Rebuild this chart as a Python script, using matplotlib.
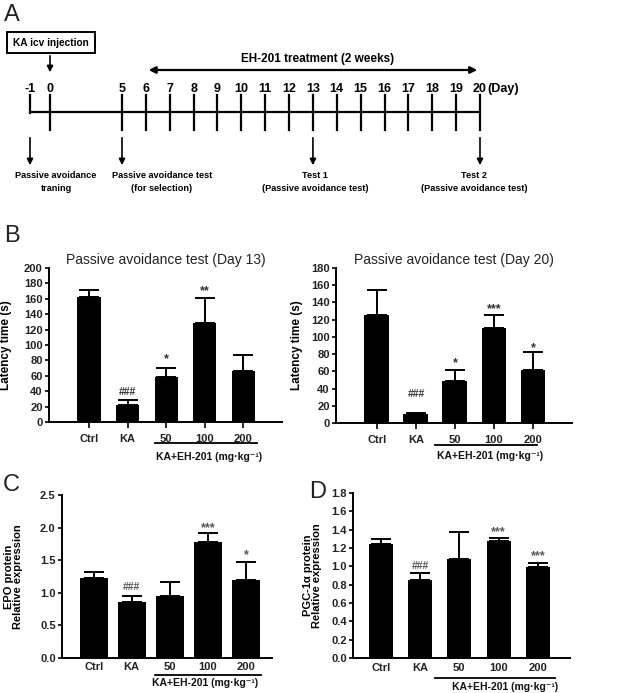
import matplotlib
matplotlib.use('Agg')
import matplotlib.pyplot as plt
import numpy as np
from matplotlib.patches import Rectangle
from matplotlib.transforms import blended_transform_factory

plt.rcParams['font.family'] = ['Liberation Sans', 'DejaVu Sans']

# ---------------- data ----------------
groups = ['Ctrl', 'KA', '50', '100', '200']
group_label = 'KA+EH-201 (mg·kg⁻¹)'

day13_mean = [162, 22, 59, 128, 66]
day13_err = [10, 7, 11, 33, 21]
day13_sig = ['', '###', '*', '**', '']

day20_mean = [126, 10, 49, 110, 62]
day20_err = [28, 2, 13, 16, 20]
day20_sig = ['', '###', '*', '***', '*']

epo_mean = [1.23, 0.86, 0.95, 1.78, 1.20]
epo_err = [0.09, 0.09, 0.22, 0.14, 0.28]
epo_sig = ['', '###', '', '***', '*']

pgc_mean = [1.24, 0.85, 1.08, 1.28, 0.99]
pgc_err = [0.06, 0.08, 0.29, 0.03, 0.05]
pgc_sig = ['', '###', '', '***', '***']

timeline_days = [-1, 0, 5, 6, 7, 8, 9, 10, 11, 12, 13, 14, 15, 16, 17, 18, 19, 20]
event_days = [-1, 5, 13, 20]
event_labels = ['Passive avoidance\ntraning', 'Passive avoidance test\n(for selection)',
                'Test 1\n(Passive avoidance test)', 'Test 2\n(Passive avoidance test)']
injection_day = 0
treatment_days = (6, 20)
treatment_label = 'EH-201 treatment (2 weeks)'
injection_label = 'KA icv injection'

# ---------------- figure ----------------
W, H = 630, 693
fig = plt.figure(figsize=(W / 100, H / 100), dpi=100)

def add_ax(l, r, t, b):
    return fig.add_axes([l / W, 1 - b / H, (r - l) / W, (b - t) / H])

# overlay axes in pixel coords
ov = fig.add_axes([0, 0, 1, 1])
ov.set_xlim(0, W)
ov.set_ylim(H, 0)
ov.axis('off')

NARROW = ['Liberation Sans Narrow', 'Liberation Sans', 'DejaVu Sans']

# ---- panel A: timeline ----
def dx(d):
    return np.interp(d, [-1, 0, 5, 20], [30, 50, 122, 480])

line_y = 112
ov.plot([dx(-1), dx(20)], [line_y, line_y], color='black', lw=1.6, solid_capstyle='butt')
for d in timeline_days:
    x = dx(d)
    if d == -1:
        ov.plot([x, x], [95, line_y + 1], color='black', lw=1.6)
    else:
        ov.plot([x, x], [95, 130], color='black', lw=1.6)
    ov.text(x, 89, str(d), ha='center', va='center', fontsize=9, fontweight='bold', family=NARROW)
ov.text(dx(20) + 7, 89, '(Day)', ha='left', va='center', fontsize=9, fontweight='bold', family=NARROW)

# injection box
ov.add_patch(Rectangle((7, 32), 88, 21, fill=False, edgecolor='black', lw=1.4))
ov.text(51, 43, injection_label, ha='center', va='center', fontsize=7.3, fontweight='bold', family=NARROW)
ov.annotate('', xy=(dx(injection_day), 75), xytext=(dx(injection_day), 53),
            arrowprops=dict(arrowstyle='-|>', color='black', lw=1.2, mutation_scale=9))

# treatment double arrow
ov.annotate('', xy=(dx(treatment_days[1]), 70), xytext=(dx(treatment_days[0]), 70),
            arrowprops=dict(arrowstyle='<|-|>', color='black', lw=1.6, mutation_scale=10))
ov.text(318, 59, treatment_label, ha='center', va='center', fontsize=8.5, fontweight='bold', family=NARROW)

# event arrows and labels
label_x = [56, 162, 315, 474]
for d, lab, lx in zip(event_days, event_labels, label_x):
    x = dx(d)
    ov.annotate('', xy=(x, 168), xytext=(x, 135),
                arrowprops=dict(arrowstyle='-|>', color='black', lw=1.2, mutation_scale=9))
    ov.text(lx, 171, lab, ha='center', va='top', fontsize=6.6, fontweight='bold',
            family=NARROW, linespacing=1.55)

# panel letters
for letter, x, y in [('A', 4, 15), ('B', 4, 236), ('C', 3, 485), ('D', 309, 492)]:
    ov.text(x, y, letter, ha='left', va='center', fontsize=17, fontweight='light', color='#222')

# ---- bar panels ----
def bar_panel(ax, means, errs, sigs, ymax, ystep, width, xlim, ylabel, ylabel_x,
              sig_off, sig_color, tick_fmt, xticklen, tick_pad, line_range, line_off,
              glabel_x, glabel_off, title=None, tick_fs=8, ylab_fs=8.5, ylab_ls=1.0):
    x = np.arange(len(groups))
    ax.bar(x, means, width, color='black', zorder=2)
    ax.errorbar(x, means, yerr=[np.zeros(len(errs)), errs], fmt='none', ecolor='black',
                elinewidth=1.4, capsize=7.5, capthick=1.4, zorder=1)
    ax.set_xlim(*xlim)
    ax.set_ylim(0, ymax)
    ticks = np.arange(0, ymax + ystep / 2, ystep)
    ax.set_yticks(ticks)
    ax.set_yticklabels([tick_fmt.format(v) for v in ticks],
                       fontsize=tick_fs, fontweight='bold', color='#222')
    ax.set_xticks(x)
    ax.set_xticklabels(groups, fontsize=8, fontweight='bold', color='#222')
    for s in ['top', 'right']:
        ax.spines[s].set_visible(False)
    for s in ['left', 'bottom']:
        ax.spines[s].set_linewidth(1.4)
    ax.tick_params(axis='y', length=3, width=1.2, pad=1.5)
    ax.tick_params(axis='x', length=xticklen, width=1.2, pad=tick_pad)
    ax.set_ylabel(ylabel, fontsize=ylab_fs, fontweight='bold', linespacing=ylab_ls)
    ax.yaxis.set_label_coords(ylabel_x, 0.5)
    if title:
        ax.set_title(title, fontsize=10, color='#222', pad=3)
    # significance marks
    for xi, m, e, s, off in zip(x, means, errs, sigs, sig_off):
        if not s:
            continue
        star = '*' in s
        gc = 7.5 if star else 3.7
        fs = 9 if star else 7.5
        ax.annotate(s, (xi, m + e), xytext=(0, off - gc), textcoords='offset pixels',
                    ha='center', va='baseline', fontsize=fs, fontweight='bold', color=sig_color)
    # group underline and label
    bt = blended_transform_factory(ax.transData, ax.transAxes)
    hpx = ax.get_position().height * H
    ax.plot(line_range, [-line_off / hpx] * 2, color='black', lw=1.3, transform=bt, clip_on=False)
    ax.text(glabel_x, -glabel_off / hpx, group_label, transform=bt, ha='center', va='center',
            fontsize=7.5, fontweight='bold', color='#111')

axB1 = add_ax(49, 282, 268, 422)
bar_panel(axB1, day13_mean, day13_err, day13_sig, 200, 20, 0.6, (-1.04, 5.01),
          'Latency time (s)', -0.16, [0, 8, 13, 11, 0], '#333', '{:.0f}', 4, 4.5,
          (1.71, 4.36), 21.5, 3.12, 35, title='Passive avoidance test (Day 13)')

axB2 = add_ax(336, 572, 268, 423)
bar_panel(axB2, day20_mean, day20_err, day20_sig, 180, 20, 0.64, (-1.05, 5.0),
          'Latency time (s)', -0.14, [0, 19, 11, 10, 9], '#333', '{:.0f}', 4, 4.5,
          (1.49, 4.1), 22, 2.9, 33, title='Passive avoidance test (Day 20)')

axC = add_ax(62, 272, 495, 658)
bar_panel(axC, epo_mean, epo_err, epo_sig, 2.5, 0.5, 0.74, (-0.83, 4.68),
          'EPO protein\nRelative expression', -0.186, [0, 10, 0, 9, 11], '#555', '{:.1f}', 0, 3.0,
          (1.62, 4.4), 16.5, 2.93, 25.5, ylab_fs=8, ylab_ls=0.9)

axD = add_ax(353, 570, 493, 658)
bar_panel(axD, pgc_mean, pgc_err, pgc_sig, 1.8, 0.2, 0.61, (-0.71, 4.82),
          'PGC-1α protein\nRelative expression', -0.143, [0, 7, 0, 10, 11], '#555', '{:.1f}', 0, 3.5,
          (1.38, 4.44), 20, 3.16, 29, ylab_fs=8, ylab_ls=0.9)

fig.savefig('out.png', dpi=100)
